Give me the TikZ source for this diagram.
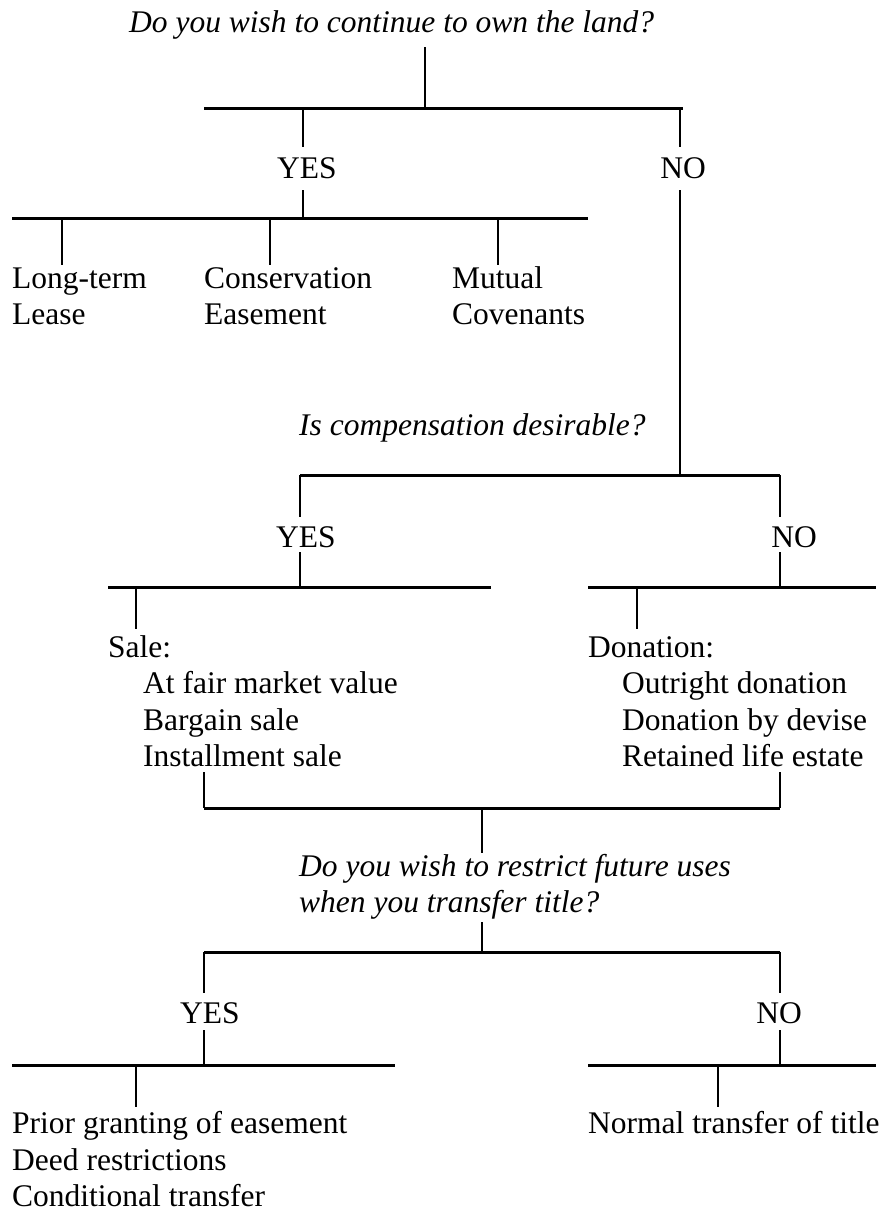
\documentclass[tikz,border=0pt]{standalone}
\usepackage{fontspec}
\setmainfont{Liberation Serif}
\begin{document}
\begin{tikzpicture}[x=1pt,y=-1pt,
  txt/.style={inner sep=0pt, anchor=base west, font=\fontsize{31.5}{36.5}\selectfont},
  ctxt/.style={inner sep=0pt, anchor=base, font=\fontsize{31.5}{36.5}\selectfont},
  qtxt/.style={inner sep=0pt, anchor=base west, font=\fontsize{31.5}{36.5}\selectfont\itshape},
  bar/.style={line width=3pt},
  stem/.style={line width=2pt}]
\useasboundingbox (0,0) rectangle (889,1211);

% ---------- Level 1 ----------
\node[qtxt] (q1) at (129,32) {Do you wish to continue to own the land?};
\coordinate (q1s) at (425,47);
\coordinate (b1c) at (425,108);
\coordinate (b1l) at (204,108);
\coordinate (b1r) at (683,108);
\coordinate (y1t) at (303,108);
\coordinate (y1a) at (303,147);
\coordinate (y1b) at (303,190);
\coordinate (y1c) at (303,218);
\coordinate (n1t) at (680,108);
\coordinate (n1a) at (680,147);
\coordinate (n1b) at (680,190);
\node[ctxt] (yes1) at (307,178) {YES};
\node[ctxt] (no1) at (683,178) {NO};
\draw[stem] (q1s) -- (b1c);
\draw[bar] (b1l) -- (b1r);
\draw[stem] (y1t) -- (y1a);
\draw[stem] (y1b) -- (y1c);
\draw[stem] (n1t) -- (n1a);

\coordinate (b2l) at (12,218);
\coordinate (b2r) at (588,218);
\draw[bar] (b2l) -- (b2r);
\coordinate (t1a) at (62,218);  \coordinate (t1b) at (62,265);
\coordinate (t2a) at (270,218); \coordinate (t2b) at (270,265);
\coordinate (t3a) at (498,218); \coordinate (t3b) at (498,265);
\draw[stem] (t1a) -- (t1b);
\draw[stem] (t2a) -- (t2b);
\draw[stem] (t3a) -- (t3b);
\node[txt] (lt1) at (12,288) {Long-term};
\node[txt] (lt2) at (12,324) {Lease};
\node[txt] (ce1) at (204,288) {Conservation};
\node[txt] (ce2) at (204,324) {Easement};
\node[txt] (mc1) at (452,288) {Mutual};
\node[txt] (mc2) at (452,324) {Covenants};

% ---------- Level 2 ----------
\node[qtxt] (q2) at (299,435) {Is compensation desirable?};
\coordinate (n1c) at (680,475);
\draw[stem] (n1b) -- (n1c);
\coordinate (b3l) at (300,475);
\coordinate (b3r) at (780,475);
\draw[bar] (b3l) -- (b3r);
\coordinate (y2a) at (300,517);
\coordinate (y2b) at (300,552);
\coordinate (y2c) at (300,587);
\coordinate (n2a) at (780,517);
\coordinate (n2b) at (780,552);
\coordinate (n2c) at (780,587);
\node[ctxt] (yes2) at (306,547) {YES};
\node[ctxt] (no2) at (794,547) {NO};
\draw[stem] (b3l) -- (y2a);
\draw[stem] (y2b) -- (y2c);
\draw[stem] (b3r) -- (n2a);
\draw[stem] (n2b) -- (n2c);

\coordinate (b4l) at (108,587);
\coordinate (b4m) at (491,587);
\coordinate (b5l) at (588,587);
\coordinate (b5r) at (876,587);
\draw[bar] (b4l) -- (b4m);
\draw[bar] (b5l) -- (b5r);
\coordinate (s1a) at (136,587); \coordinate (s1b) at (136,629);
\coordinate (d1a) at (637,587); \coordinate (d1b) at (637,629);
\draw[stem] (s1a) -- (s1b);
\draw[stem] (d1a) -- (d1b);

\node[txt] (sale) at (108,657) {Sale:};
\node[txt] (sale1) at (143,693) {At fair market value};
\node[txt] (sale2) at (143,730) {Bargain sale};
\node[txt] (sale3) at (143,766) {Installment sale};
\node[txt] (don) at (588,657) {Donation:};
\node[txt] (don1) at (622,693) {Outright donation};
\node[txt] (don2) at (622,730) {Donation by devise};
\node[txt] (don3) at (622,766) {Retained life estate};

\coordinate (k1t) at (204,772);
\coordinate (k1b) at (204,808);
\coordinate (k2t) at (780,772);
\coordinate (k2b) at (780,808);
\coordinate (kc) at (482,808);
\coordinate (kcb) at (482,853);
\draw[stem] (k1t) -- (k1b);
\draw[stem] (k2t) -- (k2b);
\draw[bar] (k1b) -- (k2b);
\draw[stem] (kc) -- (kcb);

% ---------- Level 3 ----------
\node[qtxt] (q3a) at (299,876) {Do you wish to restrict future uses};
\node[qtxt] (q3b) at (299,912) {when you transfer title?};
\coordinate (q3s) at (482,922);
\coordinate (b6c) at (482,952);
\draw[stem] (q3s) -- (b6c);
\coordinate (b6l) at (204,952);
\coordinate (b6r) at (780,952);
\draw[bar] (b6l) -- (b6r);
\coordinate (y3a) at (204,993);
\coordinate (y3b) at (204,1030);
\coordinate (y3c) at (204,1065);
\coordinate (n3a) at (780,993);
\coordinate (n3b) at (780,1030);
\coordinate (n3c) at (780,1065);
\node[ctxt] (yes3) at (210,1023) {YES};
\node[ctxt] (no3) at (779,1023) {NO};
\draw[stem] (b6l) -- (y3a);
\draw[stem] (y3b) -- (y3c);
\draw[stem] (b6r) -- (n3a);
\draw[stem] (n3b) -- (n3c);

\coordinate (b7l) at (12,1065);
\coordinate (b7r) at (395,1065);
\coordinate (b8l) at (588,1065);
\coordinate (b8r) at (876,1065);
\draw[bar] (b7l) -- (b7r);
\draw[bar] (b8l) -- (b8r);
\coordinate (p1a) at (136,1065); \coordinate (p1b) at (136,1107);
\coordinate (p2a) at (718,1065); \coordinate (p2b) at (718,1107);
\draw[stem] (p1a) -- (p1b);
\draw[stem] (p2a) -- (p2b);

\node[txt] (r1) at (12,1133) {Prior granting of easement};
\node[txt] (r2) at (12,1170) {Deed restrictions};
\node[txt] (r3) at (12,1206) {Conditional transfer};
\node[txt] (nt) at (588,1133) {Normal transfer of title};
\end{tikzpicture}
\end{document}
